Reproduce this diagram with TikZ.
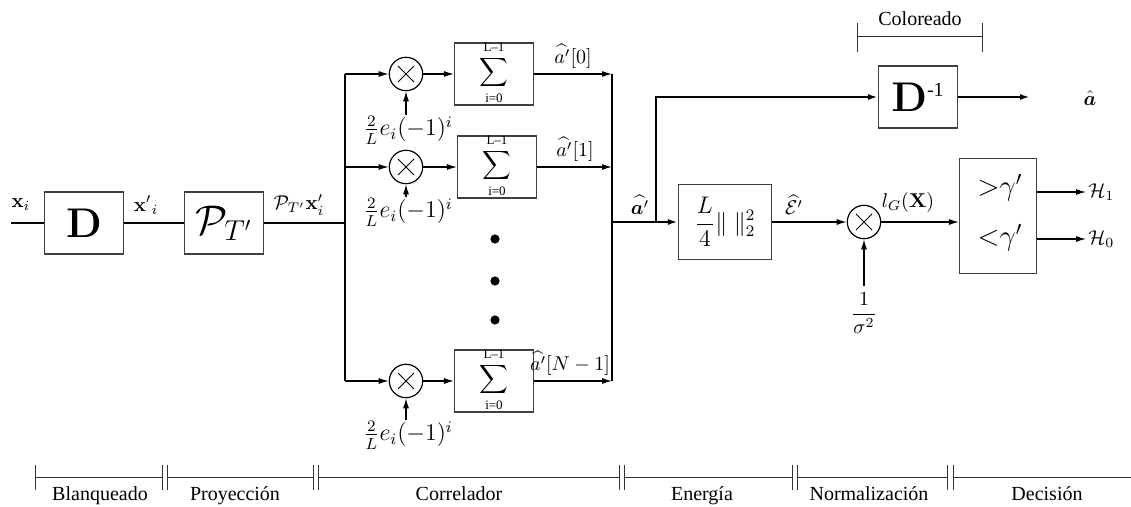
\documentclass[tikz,border=0pt]{standalone}
\usepackage{amsmath,amssymb,bm}
\usepackage[no-math]{fontspec}
\setmainfont{Liberation Serif}
\usepackage{tikz}
\usetikzlibrary{arrows.meta,positioning,calc}

\begin{document}
\begin{tikzpicture}[x=0.5pt,y=-0.5pt,
  >={Latex[length=5pt,width=3pt]},
  every node/.style={font=\normalsize},
  blockbox/.style={draw=black!75,line width=0.6pt,fill=white,inner sep=1pt,minimum width=39.5pt,minimum height=31pt},
  limtext/.style={font=\fontsize{6.5}{7}\selectfont,inner sep=0pt},
  multnode/.style={draw,circle,line width=0.6pt,fill=white,inner sep=0pt,minimum size=16.7pt,
    path picture={\draw[line width=0.5pt] ([shift={(-4pt,-4pt)}]path picture bounding box.center) -- ++(8pt,8pt)
      ([shift={(-4pt,4pt)}]path picture bounding box.center) -- ++(8pt,-8pt);}},
  thickline/.style={line width=1.45pt},
  thinline/.style={line width=0.55pt},
  scalebar/.style={line width=0.5pt,black!80}]
\useasboundingbox (0,0) rectangle (1131,507);

% blanqueado y proyeccion
\coordinate (xin) at (11,223);
\node[blockbox] (blanq) at (84,223) {\fontsize{20}{24}\selectfont$\mathbf{D}$};
\node[blockbox] (proy) at (224,223) {\fontsize{20}{24}\selectfont$\mathcal{P}_{T'}$};
\coordinate (split) at (345,223);
\draw[thickline] (xin) -- (blanq);
\draw[thickline] (blanq) -- (proy);
\draw[thickline] (proy) -- (split);
\node at (21,205) {$\mathbf{x}_i$};
\node at (146,205) {$\mathbf{x'}_i$};
\node at (299,205) {$\mathcal{P}_{T'}\mathbf{x}'_i$};

% correlador
\foreach \k/\y/\sx/\wy/\lx/\lab in {0/74/494/130/573/0, 1/167/497/212/575/1, 2/381/494/435/570/N-1}{
  \coordinate (br\k) at (345,\y);
  \node[multnode] (m\k) at (406,\y) {};
  \node[blockbox] (s\k) at (\sx,\y) {};
  \node[font=\fontsize{10}{12}\selectfont,inner sep=0pt] (sg\k) at ([yshift=0.5pt]s\k) {$\displaystyle\sum$};
  \node[limtext] (up\k) at ([yshift=-2.5pt]s\k.north) {L–1};
  \node[limtext] (lo\k) at ([yshift=3.5pt]s\k.south) {i=0};
  \node[font=\large,inner sep=0.5pt] (w\k) at (408,\wy) {$\frac{2}{L}e_i(-1)^i$};
  \coordinate (c\k) at (612,\y);
  \node[inner sep=1pt,anchor=south] (o\k) at (\lx,\y-3) {$\widehat{a'}[\lab]$};
  \draw[thinline,->] (br\k) -- (m\k);
  \draw[thinline,->] (m\k) -- (s\k);
  \draw[thinline,->] (m\k |- w\k.north) -- (m\k);
  \draw[thinline,->] (s\k) -- (c\k);
}
\draw[thinline] (br0) -- (br2);
\draw[thinline] (c0) -- (c2);
\foreach \y in {239,281,320}{\fill (495,\y) circle (2.3pt);}

% energia y coloreado
\coordinate (join) at (612,222);
\coordinate (tap) at (656,222);
\node[blockbox,minimum width=46.5pt,minimum height=37.5pt,font=\large] (ener) at (725,222) {$\displaystyle\frac{L}{4}\|\;\|_2^2$};
\node[blockbox] (dinv) at (918,97) {\fontsize{20}{24}\selectfont$\mathbf{D}^{\text{\normalsize\textrm{-1}}}$};
\coordinate (aout) at (1030,97);
\node (ahat) at (1090,98) {$\hat{\bm a}$};
\draw[thickline] (join) -- (tap);
\draw[thickline,->] (tap) -- (ener);
\draw[thickline,->] (tap) |- (dinv);
\draw[thickline,->] (dinv) -- (aout);
\node at (640,205) {$\widehat{\bm a'}$};
\draw[scalebar] (857,23) -- (857,52) (857,37) -- (982,37) (982,23) -- (982,52);
\node at (920,19) {Coloreado};

% normalizacion y decision
\node[multnode] (mn) at (864,222) {};
\node (sig) at (864,313) {$\displaystyle\frac{1}{\sigma^2}$};
\node[blockbox,minimum width=38.5pt,minimum height=57.5pt] (dec) at (998,216) {};
\node[font=\Large,inner sep=1pt] (gt) at (1000,188) {${>}\gamma'$};
\node[font=\Large,inner sep=1pt] (lt) at (1000,238) {${<}\gamma'$};
\node[anchor=west,inner sep=1pt] (h1) at (1086,192) {$\mathcal{H}_1$};
\node[anchor=west,inner sep=1pt] (h0) at (1086,239) {$\mathcal{H}_0$};
\draw[thinline,->] (ener) -- (mn);
\draw[thinline,->] (sig) -- (mn);
\draw[thinline,->] (mn) -- (mn -| dec.west);
\draw[thinline,->] (h1.west -| dec.east) -- (h1.west);
\draw[thinline,->] (h0.west -| dec.east) -- (h0.west);
\node at (794,205) {$\widehat{\mathcal{E}'}$};
\node at (908,203) {$l_G(\mathbf{X})$};

% escala de etapas
\foreach \a/\b/\lx/\name in {35/162/100/Blanqueado, 167/313/235/Proyección, 318/619/459/Correlador,
    624/792/702/Energía, 797/947/869/Normalización}{
  \draw[scalebar] (\a,465) -- (\a,490) (\a,478) -- (\b,478) (\b,465) -- (\b,490);
  \node[anchor=base] at (\lx,501) {\name};
}
\draw[scalebar] (953,465) -- (953,490) (953,478) -- (1131,478);
\node[anchor=base] at (1047,501) {Decisión};
\end{tikzpicture}
\end{document}
